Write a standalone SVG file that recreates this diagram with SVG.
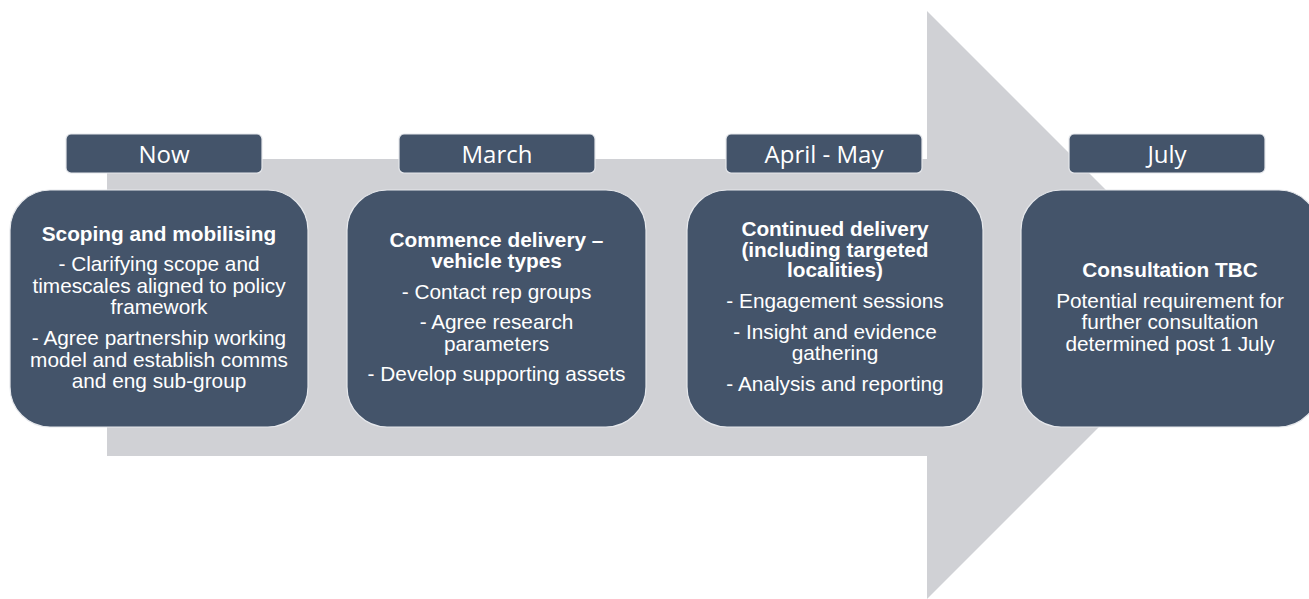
<svg xmlns="http://www.w3.org/2000/svg" width="1309" height="599" viewBox="0 0 1309 599">
<style>
.hdr{fill:#44546A;stroke:#E6E8EC;stroke-width:1.2}
.box{fill:#44546A;stroke:#E6E8EC;stroke-width:1.2}
.ht{font-family:"Open Sans",sans-serif;font-size:24px;fill:#FFFFFF;text-anchor:middle}
.t{font-family:"Liberation Sans",Arial,sans-serif;font-size:20.8px;fill:#FFFFFF;text-anchor:middle}
.b{font-weight:bold}
</style>
<rect width="1309" height="599" fill="#FFFFFF"/>
<polygon id="arrow" points="107,159 927,159 927,11 1221,305 927,599 927,456 107,456" fill="#D0D1D5"/>
<g id="connectors"></g>
<g id="node-now">
<rect class="hdr" x="66" y="134" width="196" height="39" rx="5"/>
<text class="ht" x="164" y="163">Now</text>
<rect class="box" x="10" y="190" width="298" height="237" rx="40"/>
<text class="t b" x="159" y="241">Scoping and mobilising</text>
<text class="t" x="159" y="271">- Clarifying scope and</text>
<text class="t" x="159" y="292.5">timescales aligned to policy</text>
<text class="t" x="159" y="313.5">framework</text>
<text class="t" x="159" y="345">- Agree partnership working</text>
<text class="t" x="159" y="366.5">model and establish comms</text>
<text class="t" x="159" y="387.5">and eng sub-group</text>
</g>
<g id="node-march">
<rect class="hdr" x="399" y="134" width="196" height="39" rx="5"/>
<text class="ht" x="497" y="163">March</text>
<rect class="box" x="347" y="190" width="299" height="237" rx="40"/>
<text class="t b" x="496.5" y="247">Commence delivery –</text>
<text class="t b" x="496.5" y="267.5">vehicle types</text>
<text class="t" x="496.5" y="298.5">- Contact rep groups</text>
<text class="t" x="496.5" y="329">- Agree research</text>
<text class="t" x="496.5" y="350.5">parameters</text>
<text class="t" x="496.5" y="381">- Develop supporting assets</text>
</g>
<g id="node-april-may">
<rect class="hdr" x="726" y="134" width="196" height="39" rx="5"/>
<text class="ht" x="824" y="163">April - May</text>
<rect class="box" x="687" y="190" width="296" height="237" rx="40"/>
<text class="t b" x="835" y="236">Continued delivery</text>
<text class="t b" x="835" y="256.5">(including targeted</text>
<text class="t b" x="835" y="277">localities)</text>
<text class="t" x="835" y="308">- Engagement sessions</text>
<text class="t" x="835" y="339">- Insight and evidence</text>
<text class="t" x="835" y="360">gathering</text>
<text class="t" x="835" y="390.5">- Analysis and reporting</text>
</g>
<g id="node-july">
<rect class="hdr" x="1069" y="134" width="196" height="39" rx="5"/>
<text class="ht" x="1167" y="163">July</text>
<rect class="box" x="1021" y="190" width="298" height="237" rx="40"/>
<text class="t b" x="1170" y="277">Consultation TBC</text>
<text class="t" x="1170" y="307.5">Potential requirement for</text>
<text class="t" x="1170" y="329">further consultation</text>
<text class="t" x="1170" y="351">determined post 1 July</text>
</g>
</svg>
